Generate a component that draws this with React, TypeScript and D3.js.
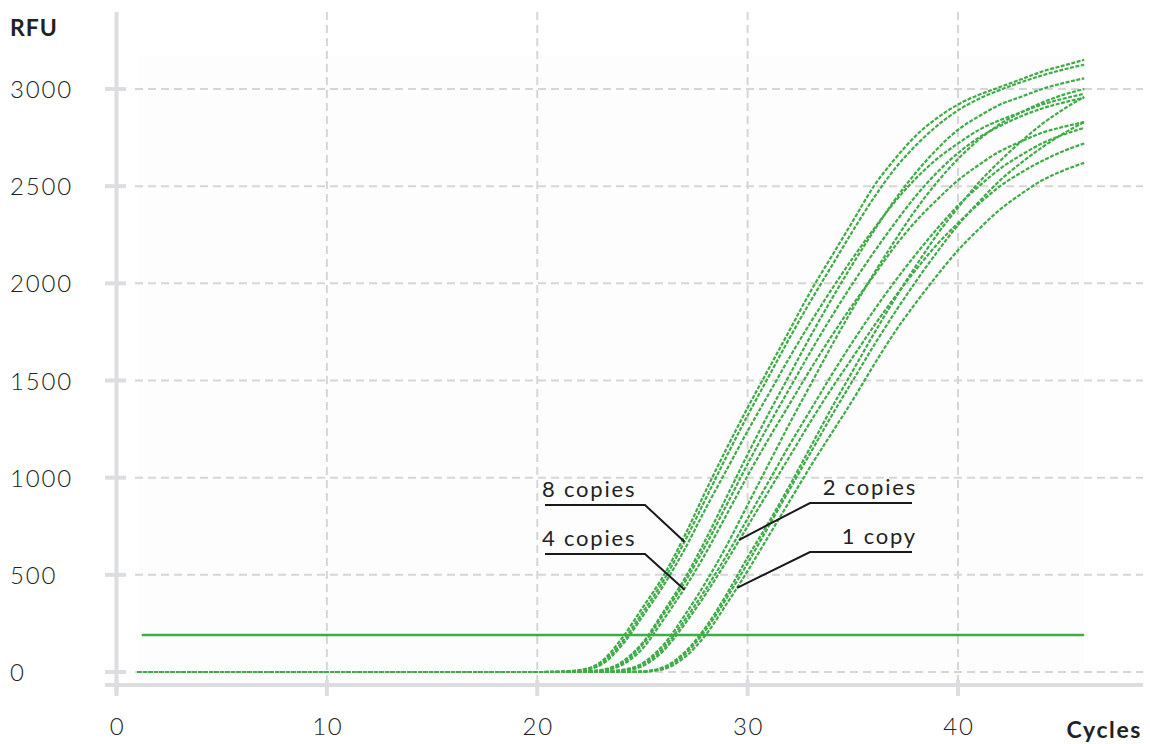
import React from "react";
import * as d3 from "d3";

// Amplification curves (RFU, baseline-subtracted), one value per cycle from cycle 20 to 46.
// Earlier cycles sit on the zero baseline.
const firstCycle = 1;
const riseFrom = 20;
const lastCycle = 46;

const eightCopiesA = [0, 2, 10, 50, 170, 330, 495, 700, 930, 1150, 1360, 1560, 1760, 1960, 2140, 2320, 2500, 2640, 2760, 2850, 2920, 2970, 3010, 3050, 3090, 3120, 3150];
const eightCopiesB = [0, 1, 8, 42, 150, 305, 470, 670, 890, 1110, 1320, 1520, 1720, 1910, 2090, 2270, 2440, 2590, 2710, 2810, 2890, 2950, 2995, 3035, 3070, 3100, 3125];
const eightCopiesC = [0, 1, 7, 35, 135, 285, 445, 630, 840, 1040, 1240, 1430, 1620, 1800, 1970, 2130, 2280, 2420, 2540, 2640, 2720, 2790, 2840, 2880, 2920, 2950, 2975];
const fourCopiesA = [0, 0, 2, 10, 50, 150, 310, 480, 680, 900, 1120, 1330, 1530, 1730, 1920, 2100, 2270, 2430, 2570, 2690, 2790, 2860, 2920, 2960, 3000, 3030, 3055];
const fourCopiesB = [0, 0, 2, 8, 42, 140, 295, 460, 650, 860, 1070, 1270, 1460, 1650, 1830, 2000, 2160, 2310, 2450, 2570, 2670, 2750, 2810, 2860, 2900, 2930, 2955];
const fourCopiesC = [0, 0, 1, 6, 35, 120, 270, 430, 610, 810, 1010, 1200, 1380, 1560, 1730, 1890, 2040, 2190, 2320, 2430, 2530, 2610, 2680, 2730, 2775, 2805, 2830];
const twoCopiesA = [0, 0, 0, 2, 10, 45, 140, 290, 460, 650, 860, 1070, 1280, 1480, 1680, 1870, 2050, 2220, 2380, 2520, 2640, 2740, 2820, 2880, 2930, 2970, 3000];
const twoCopiesB = [0, 0, 0, 2, 8, 38, 125, 265, 425, 600, 790, 980, 1170, 1350, 1530, 1700, 1860, 2010, 2150, 2280, 2400, 2500, 2590, 2660, 2720, 2765, 2800];
const twoCopiesC = [0, 0, 0, 1, 6, 30, 110, 245, 400, 570, 750, 930, 1110, 1290, 1460, 1620, 1780, 1930, 2070, 2200, 2310, 2410, 2500, 2570, 2630, 2680, 2720];
const oneCopyA = [0, 0, 0, 0, 0, 3, 25, 100, 230, 400, 590, 770, 960, 1160, 1360, 1550, 1740, 1920, 2090, 2250, 2390, 2520, 2630, 2730, 2820, 2895, 2960];
const oneCopyB = [0, 0, 0, 0, 0, 2, 20, 90, 215, 380, 560, 750, 940, 1130, 1320, 1500, 1680, 1850, 2010, 2160, 2300, 2420, 2530, 2620, 2700, 2770, 2830];
const oneCopyC = [0, 0, 0, 0, 0, 1, 15, 75, 190, 350, 520, 700, 880, 1060, 1230, 1400, 1580, 1750, 1900, 2040, 2170, 2280, 2380, 2460, 2530, 2580, 2620];

const allCurves = [
  eightCopiesA, eightCopiesB, eightCopiesC,
  fourCopiesA, fourCopiesB, fourCopiesC,
  twoCopiesA, twoCopiesB, twoCopiesC,
  oneCopyA, oneCopyB, oneCopyC,
];

const threshold = 190;

const xTicks = [0, 10, 20, 30, 40];
const yTicks = [0, 500, 1000, 1500, 2000, 2500, 3000];

// Callout labels and the point on the curves each one points at (cycle, RFU)
const calloutLabels = ["8 copies", "4 copies", "2 copies", "1 copy"];
const calloutCycles = [27.0, 27.0, 29.6, 29.5];
const calloutRfu = [670, 423, 680, 433];

const W = 1150;
const H = 744;

const GREEN = "#3fac48";
const AXIS = "#dcdde0";
const GRID = "#d6d6d6";
const TEXT = "#222";
const FONT = "Lato, 'Open Sans', sans-serif";

export default function App() {
  const x = d3.scaleLinear().domain([0, 40]).range([116.5, 958]);
  const y = d3.scaleLinear().domain([0, 3000]).range([672, 89]);

  const seriesPoints = (vals: number[]) => {
    const pts: [number, number][] = [];
    for (let c = firstCycle; c < riseFrom; c++) pts.push([c, 0]);
    vals.forEach((v, i) => pts.push([riseFrom + i, v]));
    return pts;
  };

  const line = d3
    .line<[number, number]>()
    .x((d) => x(d[0]))
    .y((d) => y(d[1]))
    .curve(d3.curveMonotoneX);

  const callouts = calloutLabels.map((label, i) => {
    const px = x(calloutCycles[i]);
    const py = y(calloutRfu[i]);
    const leftSide = i < 2;
    const ulY = leftSide ? (i === 0 ? 505 : 554) : i === 2 ? 503 : 552;
    const near = leftSide ? 645 : 810; // end of the underline joined to the pointer
    const far = leftSide ? 545 : 912;
    const textX = leftSide ? 542 : 917;
    return { label, px, py, ulY, near, far, textX, leftSide };
  });

  return (
    <svg
      width={W}
      height={H}
      style={{ position: "absolute", left: 0, top: 0, background: "#fff" }}
      fontFamily={FONT}
    >
      {/* plot background */}
      <rect x={x(1.03)} y={55} width={x(lastCycle) - x(1.03)} height={y(0) + 8 - 55} fill="#fdfdfd" />

      {/* grid */}
      {yTicks.map((t) => (
        <line key={"gy" + t} x1={135} x2={1143} y1={y(t)} y2={y(t)} stroke={GRID} strokeWidth={2} strokeDasharray="8 5" />
      ))}
      {xTicks.filter((t) => t > 0).map((t) => (
        <line key={"gx" + t} x1={x(t)} x2={x(t)} y1={12} y2={680} stroke={GRID} strokeWidth={2} strokeDasharray="8 5" />
      ))}

      {/* axes */}
      <line x1={x(0)} x2={x(0)} y1={12} y2={693} stroke={AXIS} strokeWidth={4} />
      <line x1={105} x2={1143} y1={685} y2={685} stroke={AXIS} strokeWidth={4} />
      {yTicks.map((t) => (
        <line key={"ty" + t} x1={105} x2={126} y1={y(t)} y2={y(t)} stroke={AXIS} strokeWidth={4} />
      ))}
      {xTicks.map((t) => (
        <line key={"tx" + t} x1={x(t)} x2={x(t)} y1={680} y2={696} stroke={AXIS} strokeWidth={4} />
      ))}

      {/* tick labels */}
      {yTicks.map((t) => (
        <text key={"ly" + t} x={10} y={y(t) + 9} fontSize={24} fontWeight={300} fill={TEXT} letterSpacing={1.8}>
          {t}
        </text>
      ))}
      {xTicks.map((t) => (
        <text key={"lx" + t} x={x(t) + 1} y={735} fontSize={24} fontWeight={300} fill={TEXT} textAnchor="middle" letterSpacing={1.8}>
          {t}
        </text>
      ))}
      <text x={10} y={36} fontSize={23} fontWeight={700} fill={TEXT} letterSpacing={1}>
        RFU
      </text>
      <text x={1142} y={738} fontSize={23} fontWeight={700} fill={TEXT} textAnchor="end" letterSpacing={1.6}>
        Cycles
      </text>

      {/* threshold */}
      <line x1={x(firstCycle + 0.2)} x2={x(lastCycle)} y1={y(threshold)} y2={y(threshold)} stroke={GREEN} strokeWidth={2.5} />

      {/* amplification curves */}
      {allCurves.map((vals, i) => (
        <path
          key={"c" + i}
          d={line(seriesPoints(vals)) || ""}
          fill="none"
          stroke={GREEN}
          strokeWidth={2.2}
          strokeDasharray="4 1.5"
        />
      ))}

      {/* callouts */}
      {callouts.map((c, i) => (
        <g key={"co" + i}>
          <polyline
            points={`${c.far},${c.ulY} ${c.near},${c.ulY} ${c.px},${c.py}`}
            fill="none"
            stroke="#1a1a1a"
            strokeWidth={2}
          />
          <text
            x={c.textX}
            y={c.ulY - 8}
            fontSize={22}
            fontWeight={400}
            fill={TEXT}
            textAnchor={c.leftSide ? "start" : "end"}
            letterSpacing={1.8}
          >
            {c.label}
          </text>
        </g>
      ))}
    </svg>
  );
}
